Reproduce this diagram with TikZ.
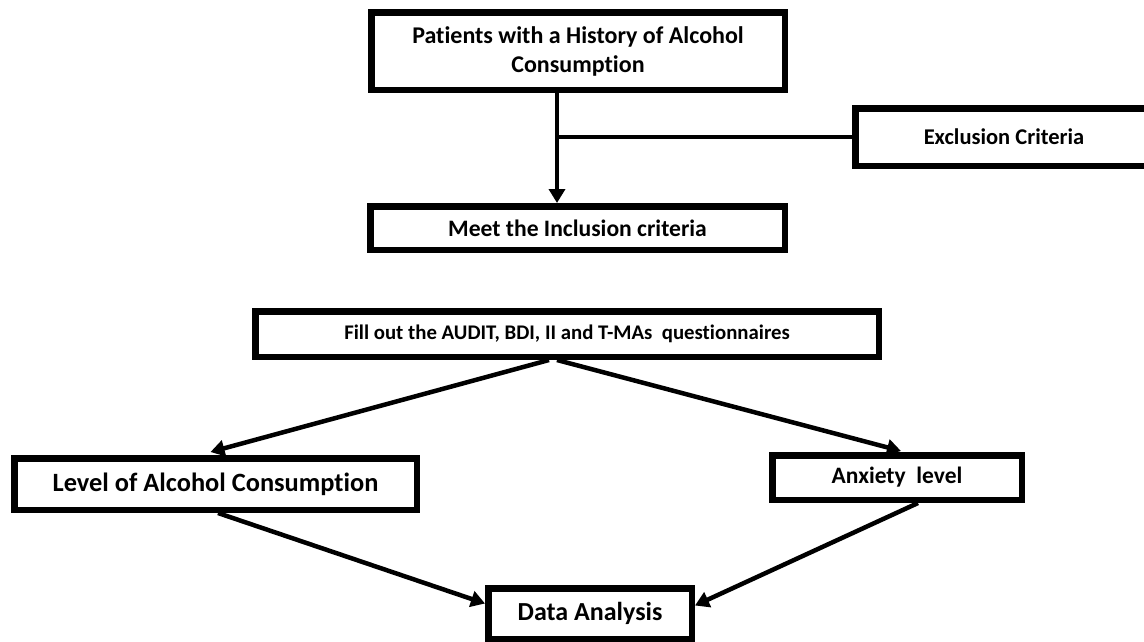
\documentclass[tikz,border=0pt]{standalone}
\usepackage{fontspec}
\setmainfont{Carlito}[Ligatures={NoCommon}]
\usetikzlibrary{arrows.meta,calc}
\tikzset{
  box/.style={draw=black, line width=6.5pt, rectangle, inner sep=0pt, align=center, font=\bfseries},
  conn/.style={draw=black, line width=4.5pt},
  arr/.style={conn, -{Triangle[length=14pt,width=16pt]}},
}
\begin{document}
\begin{tikzpicture}[x=1pt,y=-1pt]
\useasboundingbox (0,0) rectangle (1144,641);
\fill[white] (0,0) rectangle (1144,641);
\clip (0,0) rectangle (1144,641);
\node[box, minimum width=413.5pt, minimum height=77.5pt, font=\bfseries\fontsize{24}{29}\selectfont] (pat) at (578,51) {Patients with a History of Alcohol\\Consumption};
\node[box, minimum width=414.5pt, minimum height=43.5pt, font=\bfseries\fontsize{23.6}{28}\selectfont] (inc) at (577.5,228) {Meet the Inclusion criteria};
\node[box, minimum width=297.5pt, minimum height=57.5pt, font=\bfseries\fontsize{22.5}{27}\selectfont] (exc) at (1004,137) {Exclusion Criteria};
\node[box, minimum width=623.5pt, minimum height=45.5pt, font=\bfseries\fontsize{20.8}{25}\selectfont] (fill) at (567,334) {Fill out the AUDIT, BDI, II and T-MAs\ \ questionnaires};
\node[box, minimum width=402.5pt, minimum height=51.5pt, font=\bfseries\fontsize{26.4}{31}\selectfont] (lev) at (215.5,484) {Level of Alcohol Consumption};
\node[box, minimum width=249.5pt, minimum height=44.5pt, font=\bfseries\fontsize{23.5}{28}\selectfont] (anx) at (897,477.5) {Anxiety\ \ level};
\node[box, minimum width=203.5pt, minimum height=50.5pt, font=\bfseries\fontsize{26}{31}\selectfont] (dat) at (590,613.5) {Data Analysis};
\coordinate (j) at (557,137);
\draw[arr] (pat.south -| j) -- (inc.north -| j);
\draw[conn] (j) -- (exc.west);
\coordinate (fl) at (549,360);
\coordinate (fr) at (557,360);
\draw[arr] (fl) -- ([xshift=-5pt,yshift=3pt]lev.north);
\draw[arr] (fr) -- ([xshift=4pt,yshift=1pt]anx.north);
\draw[arr] ([xshift=2.5pt]lev.south) -- ([yshift=10pt]dat.west);
\draw[arr] ([xshift=21pt]anx.south) -- ([yshift=8pt]dat.east);
\end{tikzpicture}
\end{document}
